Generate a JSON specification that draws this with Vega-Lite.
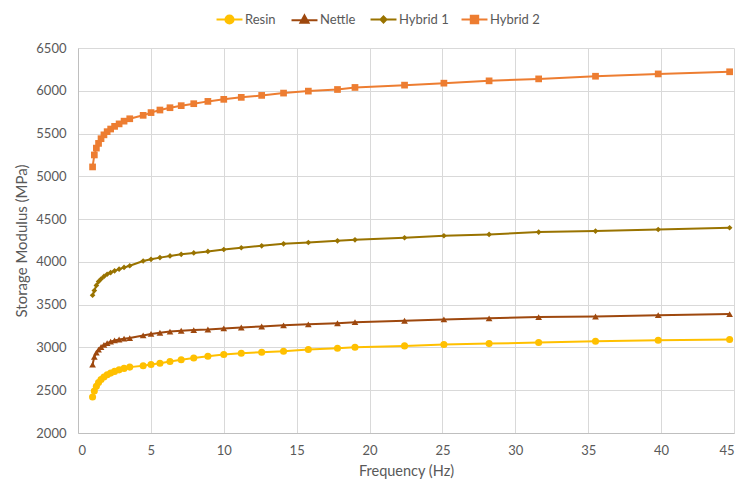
{
  "$schema": "https://vega.github.io/schema/vega-lite/v6.json",
  "width": 656,
  "height": 385,
  "autosize": {"type": "none"},
  "padding": {"left": 78, "top": 48, "right": 6, "bottom": 49},
  "background": "white",
  "config": {
    "font": "Lato",
    "view": {"stroke": null},
    "axis": {
      "labelColor": "#595959",
      "titleColor": "#595959",
      "labelFontSize": 13,
      "titleFontSize": 14.5,
      "titleFontWeight": "normal",
      "gridColor": "#D9D9D9",
      "gridWidth": 1,
      "domainColor": "#BFBFBF",
      "ticks": false
    },
    "legend": {
      "orient": "none",
      "title": null,
      "labelFontSize": 13,
      "labelColor": "#595959",
      "symbolSize": 55,
      "symbolStrokeWidth": 2,
      "labelOffset": 9,
      "legendY": -35
    }
  },
  "data": {
    "values": [
      {"s": "Resin", "f": 1, "v": 2420}, {"s": "Resin", "f": 1.12, "v": 2490}, {"s": "Resin", "f": 1.26, "v": 2545}, {"s": "Resin", "f": 1.41, "v": 2590}, {"s": "Resin", "f": 1.58, "v": 2625}, {"s": "Resin", "f": 1.78, "v": 2655}, {"s": "Resin", "f": 2.0, "v": 2680}, {"s": "Resin", "f": 2.24, "v": 2700}, {"s": "Resin", "f": 2.51, "v": 2720}, {"s": "Resin", "f": 2.82, "v": 2738}, {"s": "Resin", "f": 3.16, "v": 2755}, {"s": "Resin", "f": 3.55, "v": 2770}, {"s": "Resin", "f": 4.47, "v": 2787}, {"s": "Resin", "f": 5.01, "v": 2800}, {"s": "Resin", "f": 5.62, "v": 2815}, {"s": "Resin", "f": 6.31, "v": 2835}, {"s": "Resin", "f": 7.08, "v": 2857}, {"s": "Resin", "f": 7.94, "v": 2876}, {"s": "Resin", "f": 8.91, "v": 2897}, {"s": "Resin", "f": 10, "v": 2917}, {"s": "Resin", "f": 11.2, "v": 2932}, {"s": "Resin", "f": 12.6, "v": 2944}, {"s": "Resin", "f": 14.1, "v": 2956}, {"s": "Resin", "f": 15.8, "v": 2975}, {"s": "Resin", "f": 17.8, "v": 2991}, {"s": "Resin", "f": 19.0, "v": 3002}, {"s": "Resin", "f": 22.4, "v": 3018}, {"s": "Resin", "f": 25.1, "v": 3034}, {"s": "Resin", "f": 28.2, "v": 3045}, {"s": "Resin", "f": 31.6, "v": 3057}, {"s": "Resin", "f": 35.5, "v": 3073}, {"s": "Resin", "f": 39.8, "v": 3084}, {"s": "Resin", "f": 44.7, "v": 3092},
      {"s": "Nettle", "f": 1, "v": 2800}, {"s": "Nettle", "f": 1.12, "v": 2890}, {"s": "Nettle", "f": 1.26, "v": 2940}, {"s": "Nettle", "f": 1.41, "v": 2975}, {"s": "Nettle", "f": 1.58, "v": 3005}, {"s": "Nettle", "f": 1.78, "v": 3030}, {"s": "Nettle", "f": 2.0, "v": 3050}, {"s": "Nettle", "f": 2.24, "v": 3068}, {"s": "Nettle", "f": 2.51, "v": 3082}, {"s": "Nettle", "f": 2.82, "v": 3093}, {"s": "Nettle", "f": 3.16, "v": 3102}, {"s": "Nettle", "f": 3.55, "v": 3110}, {"s": "Nettle", "f": 4.47, "v": 3140}, {"s": "Nettle", "f": 5.01, "v": 3158}, {"s": "Nettle", "f": 5.62, "v": 3172}, {"s": "Nettle", "f": 6.31, "v": 3185}, {"s": "Nettle", "f": 7.08, "v": 3195}, {"s": "Nettle", "f": 7.94, "v": 3203}, {"s": "Nettle", "f": 8.91, "v": 3210}, {"s": "Nettle", "f": 10, "v": 3222}, {"s": "Nettle", "f": 11.2, "v": 3233}, {"s": "Nettle", "f": 12.6, "v": 3245}, {"s": "Nettle", "f": 14.1, "v": 3258}, {"s": "Nettle", "f": 15.8, "v": 3270}, {"s": "Nettle", "f": 17.8, "v": 3283}, {"s": "Nettle", "f": 19.0, "v": 3295}, {"s": "Nettle", "f": 22.4, "v": 3312}, {"s": "Nettle", "f": 25.1, "v": 3328}, {"s": "Nettle", "f": 28.2, "v": 3340}, {"s": "Nettle", "f": 31.6, "v": 3355}, {"s": "Nettle", "f": 35.5, "v": 3362}, {"s": "Nettle", "f": 39.8, "v": 3377}, {"s": "Nettle", "f": 44.7, "v": 3390},
      {"s": "Hybrid 1", "f": 1, "v": 3610}, {"s": "Hybrid 1", "f": 1.12, "v": 3665}, {"s": "Hybrid 1", "f": 1.26, "v": 3725}, {"s": "Hybrid 1", "f": 1.41, "v": 3770}, {"s": "Hybrid 1", "f": 1.58, "v": 3800}, {"s": "Hybrid 1", "f": 1.78, "v": 3830}, {"s": "Hybrid 1", "f": 2.0, "v": 3855}, {"s": "Hybrid 1", "f": 2.24, "v": 3875}, {"s": "Hybrid 1", "f": 2.51, "v": 3895}, {"s": "Hybrid 1", "f": 2.82, "v": 3915}, {"s": "Hybrid 1", "f": 3.16, "v": 3935}, {"s": "Hybrid 1", "f": 3.55, "v": 3955}, {"s": "Hybrid 1", "f": 4.47, "v": 4010}, {"s": "Hybrid 1", "f": 5.01, "v": 4030}, {"s": "Hybrid 1", "f": 5.62, "v": 4050}, {"s": "Hybrid 1", "f": 6.31, "v": 4070}, {"s": "Hybrid 1", "f": 7.08, "v": 4088}, {"s": "Hybrid 1", "f": 7.94, "v": 4105}, {"s": "Hybrid 1", "f": 8.91, "v": 4122}, {"s": "Hybrid 1", "f": 10, "v": 4145}, {"s": "Hybrid 1", "f": 11.2, "v": 4165}, {"s": "Hybrid 1", "f": 12.6, "v": 4188}, {"s": "Hybrid 1", "f": 14.1, "v": 4211}, {"s": "Hybrid 1", "f": 15.8, "v": 4227}, {"s": "Hybrid 1", "f": 17.8, "v": 4246}, {"s": "Hybrid 1", "f": 19.0, "v": 4258}, {"s": "Hybrid 1", "f": 22.4, "v": 4282}, {"s": "Hybrid 1", "f": 25.1, "v": 4305}, {"s": "Hybrid 1", "f": 28.2, "v": 4321}, {"s": "Hybrid 1", "f": 31.6, "v": 4348}, {"s": "Hybrid 1", "f": 35.5, "v": 4360}, {"s": "Hybrid 1", "f": 39.8, "v": 4379}, {"s": "Hybrid 1", "f": 44.7, "v": 4399},
      {"s": "Hybrid 2", "f": 1, "v": 5110}, {"s": "Hybrid 2", "f": 1.12, "v": 5250}, {"s": "Hybrid 2", "f": 1.26, "v": 5330}, {"s": "Hybrid 2", "f": 1.41, "v": 5385}, {"s": "Hybrid 2", "f": 1.58, "v": 5440}, {"s": "Hybrid 2", "f": 1.78, "v": 5485}, {"s": "Hybrid 2", "f": 2.0, "v": 5522}, {"s": "Hybrid 2", "f": 2.24, "v": 5553}, {"s": "Hybrid 2", "f": 2.51, "v": 5584}, {"s": "Hybrid 2", "f": 2.82, "v": 5613}, {"s": "Hybrid 2", "f": 3.16, "v": 5645}, {"s": "Hybrid 2", "f": 3.55, "v": 5673}, {"s": "Hybrid 2", "f": 4.47, "v": 5713}, {"s": "Hybrid 2", "f": 5.01, "v": 5745}, {"s": "Hybrid 2", "f": 5.62, "v": 5775}, {"s": "Hybrid 2", "f": 6.31, "v": 5802}, {"s": "Hybrid 2", "f": 7.08, "v": 5826}, {"s": "Hybrid 2", "f": 7.94, "v": 5849}, {"s": "Hybrid 2", "f": 8.91, "v": 5876}, {"s": "Hybrid 2", "f": 10, "v": 5900}, {"s": "Hybrid 2", "f": 11.2, "v": 5923}, {"s": "Hybrid 2", "f": 12.6, "v": 5946}, {"s": "Hybrid 2", "f": 14.1, "v": 5973}, {"s": "Hybrid 2", "f": 15.8, "v": 5996}, {"s": "Hybrid 2", "f": 17.8, "v": 6015}, {"s": "Hybrid 2", "f": 19.0, "v": 6039}, {"s": "Hybrid 2", "f": 22.4, "v": 6066}, {"s": "Hybrid 2", "f": 25.1, "v": 6089}, {"s": "Hybrid 2", "f": 28.2, "v": 6116}, {"s": "Hybrid 2", "f": 31.6, "v": 6139}, {"s": "Hybrid 2", "f": 35.5, "v": 6170}, {"s": "Hybrid 2", "f": 39.8, "v": 6197}, {"s": "Hybrid 2", "f": 44.7, "v": 6222}
    ]
  },
  "encoding": {
    "x": {
      "field": "f", "type": "quantitative",
      "scale": {"domain": [0, 45], "nice": false, "zero": false},
      "axis": {"values": [0, 5, 10, 15, 20, 25, 30, 35, 40, 45], "format": "d", "title": "Frequency (Hz)", "labelPadding": 11, "titlePadding": 7}
    },
    "y": {
      "field": "v", "type": "quantitative",
      "scale": {"domain": [2000, 6500], "nice": false, "zero": false},
      "axis": {"values": [2000, 2500, 3000, 3500, 4000, 4500, 5000, 5500, 6000, 6500], "format": "d", "title": "Storage Modulus (MPa)", "titleFontSize": 15, "labelPadding": 12, "titlePadding": 6}
    }
  },
  "layer": [
    {
      "transform": [{"filter": "datum.s === 'Resin'"}],
      "layer": [
        {
          "mark": {"type": "line", "strokeWidth": 2},
          "encoding": {
            "color": {"field": "s", "type": "nominal", "scale": {"range": ["#FFC000"]},
              "legend": {"legendX": 145, "symbolFillColor": "#FFC000", "symbolType": "M-3.5,0H3.5M1.1,0A1.1,1.1 0 1,1 -1.1,0A1.1,1.1 0 1,1 1.1,0Z"}}
          }
        },
        {"mark": {"type": "point", "filled": true, "opacity": 1, "shape": "circle", "size": 50, "color": "#FFC000"}}
      ]
    },
    {
      "transform": [{"filter": "datum.s === 'Nettle'"}],
      "layer": [
        {
          "mark": {"type": "line", "strokeWidth": 2},
          "encoding": {
            "color": {"field": "s", "type": "nominal", "scale": {"range": ["#9E480E"]},
              "legend": {"legendX": 220, "symbolFillColor": "#9E480E", "symbolType": "M-3.5,0.2H3.5M0,-1.1L1.1,0.9L-1.1,0.9Z"}}
          }
        },
        {"mark": {"type": "point", "filled": true, "opacity": 1, "shape": "triangle-up", "size": 45, "color": "#9E480E"}}
      ]
    },
    {
      "transform": [{"filter": "datum.s === 'Hybrid 1'"}],
      "layer": [
        {
          "mark": {"type": "line", "strokeWidth": 2},
          "encoding": {
            "color": {"field": "s", "type": "nominal", "scale": {"range": ["#997300"]},
              "legend": {"legendX": 299, "symbolFillColor": "#997300", "symbolType": "M-3.5,0H3.5M0,-0.8L0.8,0L0,0.8L-0.8,0Z"}}
          }
        },
        {"mark": {"type": "point", "filled": true, "opacity": 1, "shape": "diamond", "size": 32, "color": "#997300"}}
      ]
    },
    {
      "transform": [{"filter": "datum.s === 'Hybrid 2'"}],
      "layer": [
        {
          "mark": {"type": "line", "strokeWidth": 2},
          "encoding": {
            "color": {"field": "s", "type": "nominal", "scale": {"range": ["#ED7D31"]},
              "legend": {"legendX": 390, "symbolFillColor": "#ED7D31", "symbolType": "M-3.5,0H3.5M-1,-1H1V1H-1Z"}}
          }
        },
        {"mark": {"type": "point", "filled": true, "opacity": 1, "shape": "square", "size": 45, "color": "#ED7D31"}}
      ]
    }
  ],
  "resolve": {"scale": {"color": "independent"}, "legend": {"color": "independent"}}
}
